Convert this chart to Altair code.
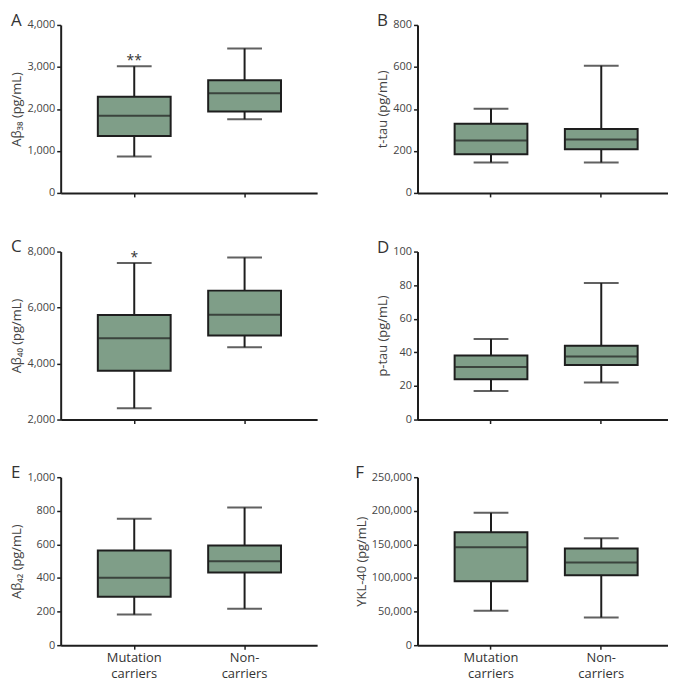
import altair as alt
import pandas as pd

# ---- data -------------------------------------------------------------
groups = ["Mutation carriers", "Non-carriers"]
group_label_lines = [["Mutation", "carriers"], ["Non-", "carriers"]]

panel_letters = ["A", "B", "C", "D", "E", "F"]
y_titles = ["Aβ₃₈ (pg/mL)", "t-tau (pg/mL)", "Aβ₄₀ (pg/mL)",
            "p-tau (pg/mL)", "Aβ₄₂ (pg/mL)", "YKL-40 (pg/mL)"]

# box-plot summaries: [Mutation carriers, Non-carriers]
ab38_min, ab38_q1, ab38_med, ab38_q3, ab38_max = [867, 1754], [1356, 1938], [1839, 2375], [2292, 2683], [3018, 3441]
ttau_min, ttau_q1, ttau_med, ttau_q3, ttau_max = [145, 145], [184, 208], [250, 254], [330, 304], [401, 606]
ab40_min, ab40_q1, ab40_med, ab40_q3, ab40_max = [2405, 4581], [3744, 5000], [4906, 5740], [5733, 6605], [7592, 7791]
ptau_min, ptau_q1, ptau_med, ptau_q3, ptau_max = [17, 22], [24, 32.5], [31.3, 37.5], [38.1, 43.9], [48, 81.3]
ab42_min, ab42_q1, ab42_med, ab42_q3, ab42_max = [182, 217], [288, 432], [401, 500], [564, 593], [752, 820]
ykl_min, ykl_q1, ykl_med, ykl_q3, ykl_max = [51300, 41200], [95000, 104100], [145800, 123100], [168000, 143800], [197000, 159300]

mins = [ab38_min, ttau_min, ab40_min, ptau_min, ab42_min, ykl_min]
q1s = [ab38_q1, ttau_q1, ab40_q1, ptau_q1, ab42_q1, ykl_q1]
meds = [ab38_med, ttau_med, ab40_med, ptau_med, ab42_med, ykl_med]
q3s = [ab38_q3, ttau_q3, ab40_q3, ptau_q3, ab42_q3, ykl_q3]
maxs = [ab38_max, ttau_max, ab40_max, ptau_max, ab42_max, ykl_max]

y_domains = [[0, 4000], [0, 800], [2000, 8000], [0, 100], [0, 1000], [0, 250000]]
y_ticks = [[0, 1000, 2000, 3000, 4000], [0, 200, 400, 600, 800],
           [2000, 4000, 6000, 8000], [0, 20, 40, 60, 80, 100],
           [0, 200, 400, 600, 800, 1000],
           [0, 50000, 100000, 150000, 200000, 250000]]
significance = [["**", ""], ["", ""], ["*", ""], ["", ""], ["", ""], ["", ""]]

# ---- styling ------------------------------------------------------------
FILL = "#7f9e88"
INK = "#1e1e1e"
FONT = "Open Sans"

label_expr = "datum.value == '{0}' ? {1} : {2}".format(
    groups[0],
    "[" + ",".join("'%s'" % s for s in group_label_lines[0]) + "]",
    "[" + ",".join("'%s'" % s for s in group_label_lines[1]) + "]",
)


def panel(i):
    df = pd.DataFrame({
        "group": groups,
        "lo": mins[i], "q1": q1s[i], "med": meds[i], "q3": q3s[i], "hi": maxs[i],
        "star": significance[i],
    })
    bottom = i >= 4
    left = i % 2 == 0
    w = 258 if left else 252
    sc = (alt.Scale(paddingInner=0.34, paddingOuter=0.332, align=0.507) if left
          else alt.Scale(paddingInner=0.34, paddingOuter=0.306, align=0.55))
    x = alt.X(
        "group:N", sort=groups, title=None, scale=sc,
        axis=alt.Axis(labels=bottom, labelExpr=label_expr, labelAngle=0,
                      labelFontSize=13, labelColor="#333", labelPadding=2,
                      labelLineHeight=17, tickSize=4, labelBaseline="top"),
    )
    ys = alt.Scale(domain=y_domains[i], nice=False, zero=False)
    yaxis = alt.Axis(values=y_ticks[i], format=",.0f", tickSize=4, labelPadding=2,
                     titlePadding=3)

    def Y(field):
        return alt.Y(field, scale=ys, axis=yaxis, title=y_titles[i])

    base = alt.Chart(df)
    whisk = base.mark_rule(color=INK, strokeWidth=2).encode(x=x, y=Y("lo:Q"), y2="hi:Q")
    cap_lo = base.mark_tick(size=35, thickness=2, color=INK).encode(x=x, y=Y("lo:Q"))
    cap_hi = base.mark_tick(size=35, thickness=2, color=INK).encode(x=x, y=Y("hi:Q"))
    box = base.mark_bar(fill=FILL, stroke=INK, strokeWidth=2).encode(x=x, y=Y("q1:Q"), y2="q3:Q")
    med = base.mark_tick(size=72, thickness=2, color=INK).encode(x=x, y=Y("med:Q"))
    star = base.mark_text(dy=-5, fontSize=14, color="#333", font=FONT,
                          baseline="middle").encode(x=x, y=Y("hi:Q"), text="star:N")
    return alt.layer(whisk, cap_lo, cap_hi, box, med, star).properties(
        width=w, height=169,
        title=alt.TitleParams(panel_letters[i], anchor="start", frame="bounds",
                              fontSize=17, fontWeight="normal", color="#333",
                              font=FONT, offset=-11),
    )


chart = alt.concat(
    *[panel(i) for i in range(6)], columns=2,
    spacing=alt.RowColnumber(row=40, column=38),
).properties(
    align="each", padding={"left": 2, "top": 2, "right": 0, "bottom": 0},
).configure_view(stroke=None).configure_axis(
    grid=False, domainColor=INK, domainWidth=2, tickColor=INK, tickWidth=1.5,
    labelFont=FONT, labelFontSize=11, labelColor="#444",
    titleFont=FONT, titleFontSize=13, titleFontWeight="normal", titleColor="#444",
)

chart.save("out.html", embed_options={"renderer": "svg", "actions": False})
